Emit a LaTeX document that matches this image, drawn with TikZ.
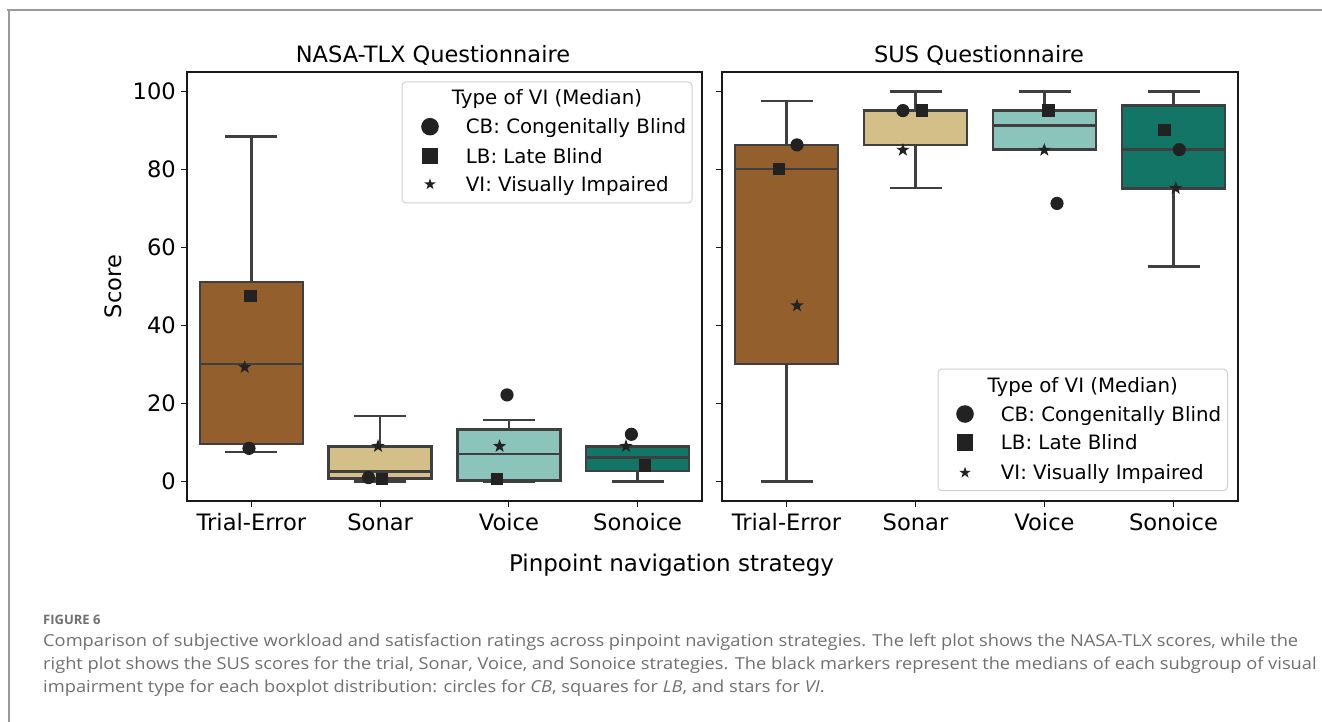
\documentclass[tikz,border=0pt]{standalone}
\usepackage{fontspec}
\usepackage{graphicx}
\setmainfont{DejaVu Sans}
\newfontfamily\capfont{Open Sans}
\definecolor{cTE}{HTML}{935F2C}
\definecolor{cSo}{HTML}{D4BF89}
\definecolor{cVo}{HTML}{8BC4BA}
\definecolor{cSn}{HTML}{137566}
\definecolor{edgec}{HTML}{3F3F3F}
\definecolor{markc}{HTML}{222222}
\definecolor{capgray}{HTML}{707070}
\definecolor{framegray}{HTML}{9A9A9A}
\definecolor{leggray}{HTML}{D0D0D0}
\tikzset{
  spine/.style={draw=black!90, line width=1.3pt},
  tickst/.style={draw=black!90, line width=1.1pt},
  whisk/.style={draw=edgec, line width=2.5pt},
  boxst/.style={draw=edgec, line width=2.6pt},
  ticklab/.style={font=\fontsize{22.6}{26}\selectfont, inner sep=0pt},
  titlelab/.style={font=\fontsize{22.5}{27}\selectfont, inner sep=0pt, anchor=base},
  legbox/.style={draw=leggray, line width=1pt, rounded corners=4pt, fill=white, fill opacity=0.85},
  legtxt/.style={font=\fontsize{19.8}{23}\selectfont, inner sep=0pt, anchor=base west},
  legtitle/.style={font=\fontsize{19.8}{23}\selectfont, inner sep=0pt, anchor=base},
  captxt/.style={font=\capfont\fontsize{16.5}{19}\selectfont, text=capgray, inner sep=0pt, anchor=base west},
}
\newcommand{\bxp}[7]{%
  \draw[whisk] (#1,#3) -- (#1,#4) (#1,#6) -- (#1,#7)
               (#1-26,#3) -- (#1+26,#3) (#1-26,#7) -- (#1+26,#7);
  \filldraw[boxst, fill=#2] (#1-51.5,#4) rectangle (#1+51.5,#6);
  \draw[boxst] (#1-51.5,#5) -- (#1+51.5,#5);}
\newcommand{\mC}[3][6.6pt]{\fill[markc] (#2,#3) circle[radius=#1];}
\newcommand{\mS}[3][6.3pt]{\fill[markc, shift={(#2,#3)}] (-#1,-#1) rectangle (#1,#1);}
\newcommand{\mT}[4][7pt]{\fill[markc, shift={(#2,#3)}] (90:#1) -- (126:#4) -- (162:#1) -- (198:#4) -- (234:#1) -- (270:#4) -- (306:#1) -- (342:#4) -- (18:#1) -- (54:#4) -- cycle;}
\newcommand{\capline}[1]{\scalebox{1.107}[1]{#1}}
\begin{document}
\begin{tikzpicture}[x=1pt, y=-1pt]
\useasboundingbox (0,0) rectangle (1322,722);
\fill[white] (0,0) rectangle (1322,722);
% outer frame
\draw[framegray, line width=1.2pt] (7,10) -- (1322,10);
\draw[framegray, line width=1.2pt] (9,10) -- (9,722);

% titles
\node[titlelab] (t1) at (433,63) {NASA-TLX Questionnaire};
\node[titlelab] (t2) at (979,63) {SUS Questionnaire};
\node[ticklab, rotate=90] (ylab) at (113,286.5) {Score};
\node[titlelab, font=\fontsize{23}{27}\selectfont] (xlab) at (671.5,571) {Pinpoint navigation strategy};

% y ticks
\foreach \v in {0,20,...,100}{
  \pgfmathsetmacro{\yy}{481.5-3.9*\v}
  \draw[tickst] (181,\yy) -- (187,\yy);
  \draw[tickst] (716,\yy) -- (722,\yy);
  \node[ticklab, anchor=east] (yl\v) at (176,\yy) {\v};
}
% x ticks
\foreach \c/\lab in {0/Trial-Error,1/Sonar,2/Voice,3/Sonoice}{
  \pgfmathsetmacro{\xa}{251.4+128.75*\c}
  \pgfmathsetmacro{\xb}{786.5+129*\c}
  \draw[tickst] (\xa,501) -- (\xa,507);
  \draw[tickst] (\xb,501) -- (\xb,507);
  \node[ticklab, anchor=base] (xa\c) at (\xa,530.5) {\lab};
  \node[ticklab, anchor=base] (xb\c) at (\xb,530.5) {\lab};
}

% data
\begin{scope}[shift={(0,481.5)}, y=3.9pt]
  % NASA-TLX
  \bxp{251.4}{cTE}{7.6}{9.6}{30.1}{51.2}{88.4}
  \bxp{380.15}{cSo}{0}{0.8}{2.6}{9.05}{16.8}
  \bxp{508.9}{cVo}{0}{0.2}{7.05}{13.3}{15.8}
  \bxp{637.65}{cSn}{0}{2.7}{6.1}{9.05}{9.05}
  \mS{250.7}{47.6} \mT{244.7}{29.3}{2.8pt} \mC{249}{8.5}
  \mT{378}{9.05}{2.8pt} \mC{368.5}{1.0} \mS{382}{0.6}
  \mC{507}{22.2} \mT{499.6}{9.05}{2.8pt} \mS{496.9}{0.6}
  \mC{631.4}{12.1} \mT{626}{9.05}{2.8pt} \mS{644.9}{4.1}
  % SUS
  \bxp{786.5}{cTE}{0}{30.1}{80.1}{86.3}{97.6}
  \bxp{915.5}{cSo}{75.2}{86.3}{95.1}{95.1}{100}
  \bxp{1044.5}{cVo}{85.1}{85.1}{91.3}{95.1}{100}
  \bxp{1173.5}{cSn}{55.1}{75.1}{85.1}{96.4}{100}
  \mC{797}{86.3} \mS{779}{80.1} \mT{797}{45.1}{2.8pt}
  \mC{902.9}{95.1} \mS{922}{95.1} \mT{902.9}{85}{2.8pt}
  \mS{1048.6}{95.1} \mT{1044.3}{85}{2.8pt} \mC{1057}{71.3}
  \mS{1164.3}{90.1} \mC{1179.3}{85.1} \mT{1175.7}{75.2}{2.8pt}
\end{scope}

% spines
\draw[spine] (187,72) rectangle (702,501);
\draw[spine] (722,72) rectangle (1238,501);

% legend left
\path[legbox] (402,82) rectangle (692,203);
\node[legtitle] (lt1) at (547,105) {Type of VI (Median)};
\mC[8.8pt]{430}{126.7} \mS[8.3pt]{430}{156} \mT[6pt]{430}{184.3}{2.3pt}
\node[legtxt] (la1) at (465.7,133.8) {CB: Congenitally Blind};
\node[legtxt] (la2) at (465.7,163.1) {LB: Late Blind};
\node[legtxt] (la3) at (465.7,191.4) {VI: Visually Impaired};
% legend right
\path[legbox] (938,369) rectangle (1227.5,490.7);
\node[legtitle] (lt2) at (1082.7,392) {Type of VI (Median)};
\mC[8.8pt]{965}{414} \mS[8.3pt]{965}{442.7} \mT[6pt]{965}{472.7}{2.3pt}
\node[legtxt] (lb1) at (1000.7,421.1) {CB: Congenitally Blind};
\node[legtxt] (lb2) at (1000.7,449.8) {LB: Late Blind};
\node[legtxt] (lb3) at (1000.7,479.8) {VI: Visually Impaired};

% caption
\node[captxt, font=\capfont\bfseries\fontsize{13}{16}\selectfont] (fig) at (43,624) {FIGURE 6};
\node[captxt] (c1) at (43,646.5) {\capline{Comparison of subjective workload and satisfaction ratings across pinpoint navigation strategies. The left plot shows the NASA-TLX scores, while the}};
\node[captxt] (c2) at (43,669.5) {\capline{right plot shows the SUS scores for the trial, Sonar, Voice, and Sonoice strategies. The black markers represent the medians of each subgroup of visual}};
\node[captxt] (c3) at (43,692.5) {\capline{impairment type for each boxplot distribution: circles for \textit{CB}, squares for \textit{LB}, and stars for \textit{VI}.}};
\end{tikzpicture}
\end{document}
